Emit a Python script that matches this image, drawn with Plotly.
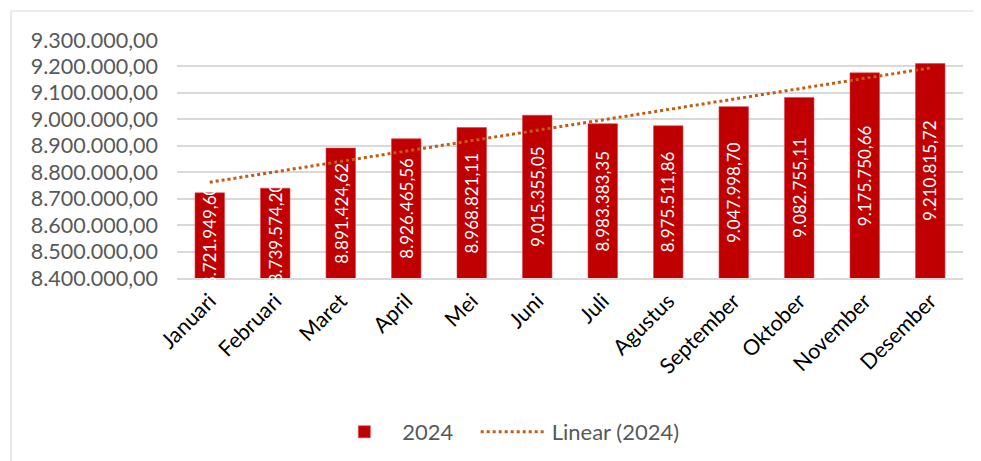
import numpy as np
import plotly.graph_objects as go

# Data
months = ["Januari", "Februari", "Maret", "April", "Mei", "Juni", "Juli",
          "Agustus", "September", "Oktober", "November", "Desember"]
values_2024 = [8721949.60, 8739574.20, 8891424.62, 8926465.56, 8968821.11,
               9015355.05, 8983383.35, 8975511.86, 9047998.70, 9082755.11,
               9175750.66, 9210815.72]
y_ticks = [8400000, 8500000, 8600000, 8700000, 8800000,
           8900000, 9000000, 9100000, 9200000, 9300000]
y_min, y_max = 8400000, 9300000

# Linear trendline (least squares, like Excel's "Linear" trendline)
idx = np.arange(1, len(values_2024) + 1)
slope, intercept = np.polyfit(idx, values_2024, 1)
trend = slope * idx + intercept

FONT = "Lato"
# the page body adds an 8px offset, so the figure is a bit smaller than the window
W, H = 973, 453
ML, MR, MT, MB = 169, 18, 32, 183

fig = go.Figure()
fig.add_trace(go.Bar(
    x=months,
    y=values_2024,
    name="2024",
    legend="legend",
    marker=dict(color="#C00000", line=dict(color="#D9414A", width=0.6)),
))
fig.add_trace(go.Scatter(
    x=months,
    y=trend,
    mode="lines",
    name="Linear (2024)",
    legend="legend2",
    line=dict(color="#C55A11", width=3, dash="dot"),
))

# value labels, rotated, centred in the visible part of each bar
for m, v in zip(months, values_2024):
    label = f"{v:,.2f}".replace(",", "X").replace(".", ",").replace("X", ".")
    fig.add_annotation(
        x=m, y=(v + y_min) / 2, text=label, textangle=-90,
        showarrow=False, font=dict(family=FONT, size=17, color="white"),
    )

pw = W - ML - MR
ph = H - MT - MB
# light frame on the left and top edges of the chart area
fig.add_shape(type="line", xref="paper", yref="paper",
              x0=(3 - ML) / pw, x1=(W + 5 - ML) / pw,
              y0=(H - MB - 3) / ph, y1=(H - MB - 3) / ph,
              line=dict(color="#D9D9D9", width=1.2))
fig.add_shape(type="line", xref="paper", yref="paper",
              x0=(3 - ML) / pw, x1=(3 - ML) / pw,
              y0=(H - MB - 3) / ph, y1=-(MB + 5) / ph,
              line=dict(color="#D9D9D9", width=1.2))

legend_font = dict(family=FONT, size=22, color="#595959")
fig.update_layout(
    width=W, height=H,
    margin=dict(l=ML, r=MR, t=MT, b=MB, autoexpand=False),
    plot_bgcolor="white",
    paper_bgcolor="white",
    separators=",.",
    bargap=0.55,
    font=dict(family=FONT, color="#595959"),
    showlegend=True,
    legend=dict(
        orientation="h", x=0.19, xanchor="left",
        y=-0.647, yanchor="middle", font=legend_font, itemwidth=66,
    ),
    legend2=dict(
        orientation="h", x=0.38, xanchor="left",
        y=-0.647, yanchor="middle", font=legend_font, itemwidth=66,
    ),
    xaxis=dict(
        tickangle=-45,
        tickfont=dict(family=FONT, size=21.5, color="#000000"),
        showline=True, linecolor="#D9D9D9", linewidth=2,
        showgrid=False, ticks="", automargin=False,
    ),
    yaxis=dict(
        range=[y_min, y_max],
        tickvals=y_ticks,
        tickformat=",.2f",
        tickfont=dict(family=FONT, size=21.5, color="#595959"),
        showgrid=True, gridcolor="#D9D9D9", gridwidth=1.5,
        zeroline=False, showline=False,
        ticklabelstandoff=18, automargin=False,
    ),
)

fig.write_html("out.html")
